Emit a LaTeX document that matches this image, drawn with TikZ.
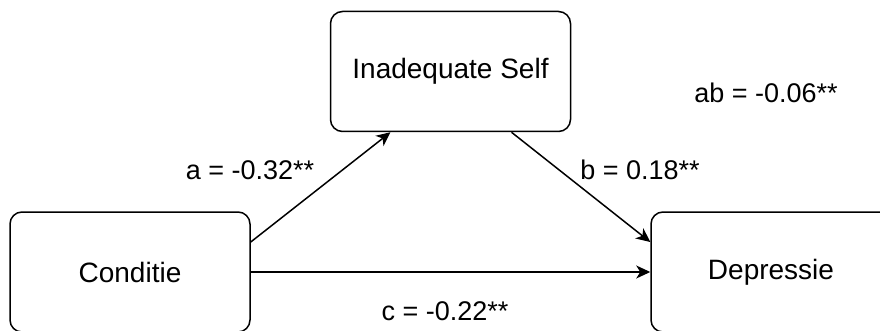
\documentclass[tikz,border=0pt]{standalone}
\usepackage{fontspec}
\setmainfont{Liberation Sans}
\usepackage{tikz}
\usetikzlibrary{arrows.meta,positioning}
\definecolor{ink}{RGB}{0,0,0}

\begin{document}
\begin{tikzpicture}[
  x=1pt,y=-1pt,
  box/.style={rectangle,rounded corners=12pt,draw=ink,line width=1.5pt,align=center,minimum width=240pt,minimum height=120pt,font=\fontsize{28}{34}\selectfont},
  coef/.style={font=\fontsize{27}{32}\selectfont,inner sep=0pt},
  arrow/.style={-{Stealth[length=14pt,width=13pt,inset=4pt]},line width=1.5pt}
]
\useasboundingbox (0,0) rectangle (880,331);
\clip (0,0) rectangle (880,331);
\node[box] (conditie) at (130,272) {Conditie};
\node[box] (self) at (450.5,71.5) {Inadequate Self};
\node[box] (depressie) at (771,272) {Depressie};
% path coefficients
\node[coef] (pa) at (250,170) {a = -0.32**};
\node[coef] (pb) at (640,170) {b = 0.18**};
\node[coef] (pc) at (445,311) {c = -0.22**};
\node[coef] (pab) at (766,93) {ab = -0.06**};
\draw[arrow] ([yshift=30pt]conditie.east) -- ([xshift=-60pt]self.south);
\draw[arrow] ([xshift=61pt]self.south) -- ([yshift=30pt]depressie.west);
\draw[arrow] (conditie.east) -- (depressie.west);
\end{tikzpicture}
\end{document}
